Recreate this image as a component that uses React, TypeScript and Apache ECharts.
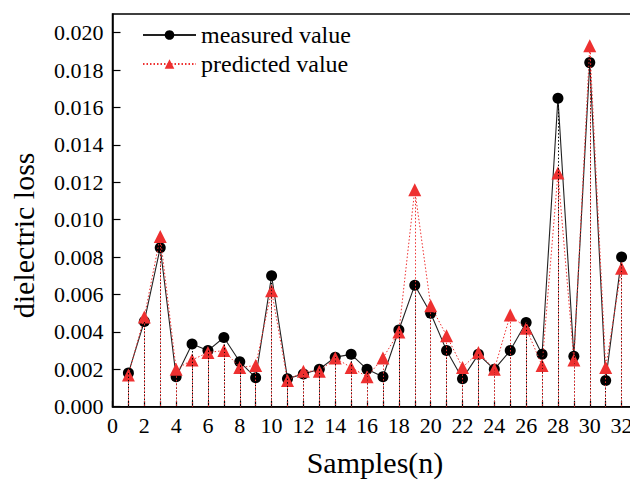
import React, { useEffect, useRef } from 'react';
import * as echarts from 'echarts';

const samples = [1, 2, 3, 4, 5, 6, 7, 8, 9, 10, 11, 12, 13, 14, 15, 16, 17, 18, 19, 20, 21, 22, 23, 24, 25, 26, 27, 28, 29, 30, 31, 32];
const measured = [0.0018, 0.00456, 0.0085, 0.0016, 0.00335, 0.003, 0.0037, 0.0024, 0.00155, 0.007, 0.0015, 0.00175, 0.002, 0.00265, 0.0028, 0.002, 0.0016, 0.0041, 0.0065, 0.005, 0.003, 0.0015, 0.0028, 0.002, 0.003, 0.0045, 0.0028, 0.0165, 0.0027, 0.0184, 0.0014, 0.008];
const predicted = [0.0017, 0.0048, 0.0091, 0.002, 0.0025, 0.0029, 0.003, 0.0021, 0.0022, 0.0062, 0.0014, 0.0019, 0.0019, 0.0026, 0.0021, 0.0016, 0.0026, 0.004, 0.0116, 0.0054, 0.0038, 0.0021, 0.0029, 0.002, 0.0049, 0.0042, 0.0022, 0.0125, 0.0025, 0.0193, 0.0021, 0.0074];

const RED = '#ee3030';
const FONT = "'Liberation Serif', 'Times New Roman', serif";

export default function App() {
  const ref = useRef<HTMLDivElement>(null);
  useEffect(() => {
    if (!ref.current) return;
    const chart = echarts.init(ref.current, null, { renderer: 'svg' });
    const drops = (vals: number[]) =>
      samples.map((s, i) => [{ coord: [s, vals[i]] }, { coord: [s, 0] }]);
    const labelStyle = { fontFamily: FONT, fontSize: 22, color: '#000', fontWeight: 'normal' as const };
    chart.setOption({
      animation: false,
      backgroundColor: '#fff',
      textStyle: { fontFamily: FONT },
      grid: {
        left: 112.5,
        top: 14,
        bottom: 77.3,
        right: 2.5,
        show: true,
        borderColor: '#000',
        borderWidth: 1.5,
        containLabel: false,
      },
      legend: {
        orient: 'vertical',
        left: 137,
        top: 18,
        itemWidth: 53,
        itemHeight: 12,
        itemGap: 5,
        textStyle: { fontFamily: FONT, fontSize: 24, color: '#000', lineHeight: 24 },
        data: ['measured value', 'predicted value'],
      },
      xAxis: {
        type: 'value',
        min: 0,
        max: 33,
        interval: 1,
        name: 'Samples(n)',
        nameLocation: 'middle',
        nameGap: 41,
        nameTextStyle: { fontFamily: FONT, fontSize: 30, color: '#000' },
        axisLine: { show: true, lineStyle: { color: '#000', width: 1.5 } },
        axisTick: { show: true, inside: true, length: 6, lineStyle: { color: '#000', width: 1.2 } },
        axisLabel: {
          ...labelStyle,
          margin: 8,
          showMaxLabel: false,
          formatter: (v: number) => (Math.round(v) % 2 === 0 ? String(Math.round(v)) : ''),
        },
        splitLine: { show: false },
      },
      yAxis: {
        type: 'value',
        min: 0,
        max: 0.021,
        interval: 0.002,
        name: 'dielectric loss',
        nameLocation: 'middle',
        nameGap: 74,
        nameTextStyle: { fontFamily: FONT, fontSize: 30, color: '#000', padding: [0, 50, 0, 0] },
        axisLine: { show: true, lineStyle: { color: '#000', width: 1.5 } },
        axisTick: { show: true, inside: true, length: 8, lineStyle: { color: '#000', width: 1.2 } },
        axisLabel: {
          ...labelStyle,
          margin: 9,
          showMaxLabel: false,
          formatter: (v: number) => v.toFixed(3),
        },
        splitLine: { show: false },
      },
      series: [
        {
          name: 'measured value',
          type: 'line',
          data: samples.map((s, i) => [s, measured[i]]),
          symbol: 'circle',
          symbolSize: 11,
          itemStyle: { color: '#000' },
          lineStyle: { color: '#222', width: 1.1 },
          z: 2,
          markLine: {
            silent: true,
            symbol: ['none', 'none'],
            label: { show: false },
            lineStyle: { color: '#000', type: [1.5, 2], width: 1 },
            data: drops(measured),
          },
        },
        {
          name: 'predicted value',
          type: 'line',
          data: samples.map((s, i) => [s, predicted[i]]),
          symbol: 'triangle',
          symbolSize: 13,
          itemStyle: { color: RED },
          lineStyle: { color: RED, width: 1, type: [1.5, 2] },
          z: 3,
          markLine: {
            silent: true,
            symbol: ['none', 'none'],
            label: { show: false },
            lineStyle: { color: RED, type: [1.5, 2], width: 1 },
            data: drops(predicted),
          },
        },
      ],
    });
    return () => chart.dispose();
  }, []);
  return (
    <div
      style={{ position: 'fixed', left: 0, top: 0, width: 630, height: 484, overflow: 'hidden', background: '#fff' }}
    >
      <div ref={ref} style={{ width: 640, height: 484 }} />
    </div>
  );
}
